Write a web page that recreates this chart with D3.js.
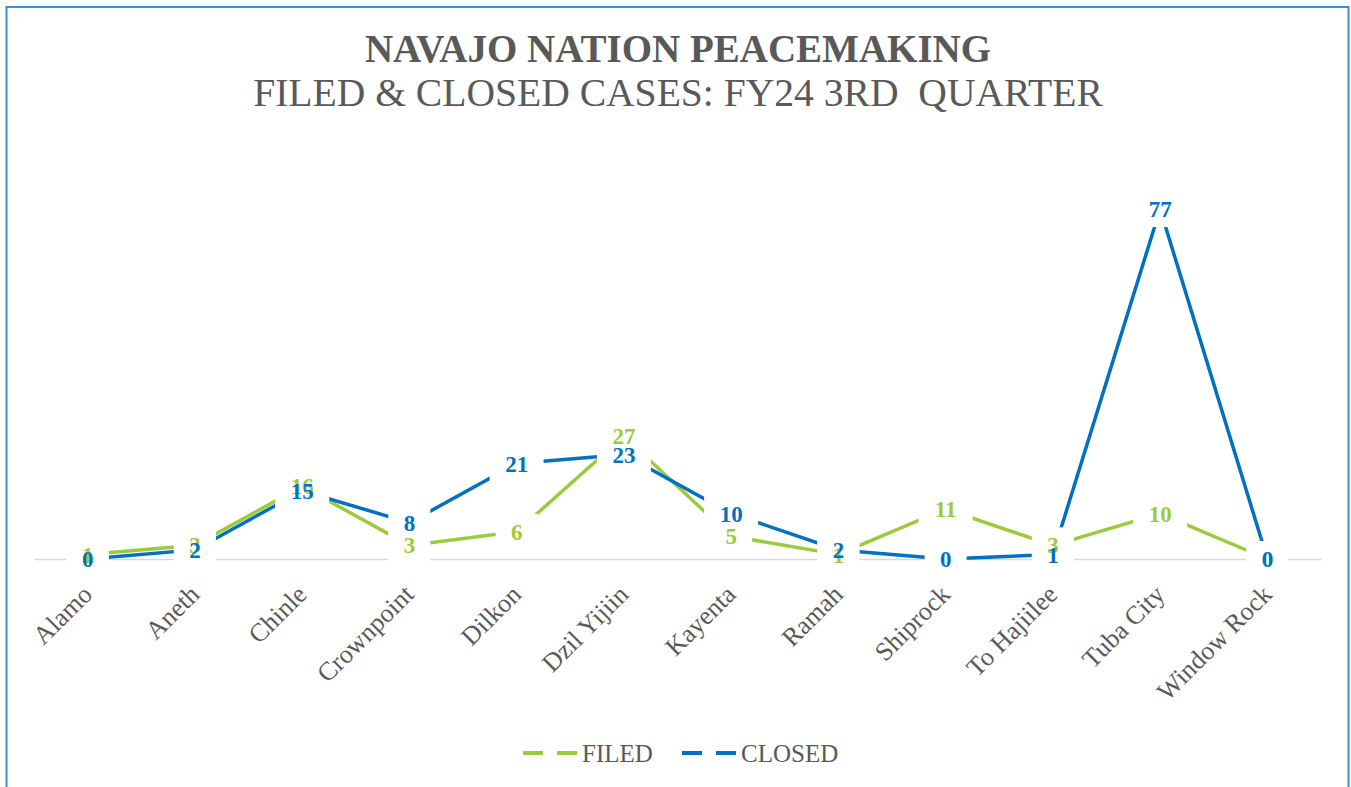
<!DOCTYPE html>
<html>
<head>
<meta charset="utf-8">
<script src="https://cdn.jsdelivr.net/npm/d3@7"></script>
<style>
  body { margin: 0; background: #fff; }
  svg text { font-family: "Liberation Serif", "DejaVu Serif", serif; }
</style>
</head>
<body>
<div id="chart"></div>
<script>
// chart data
var sites = ["Alamo", "Aneth", "Chinle", "Crownpoint", "Dilkon", "Dzil Yijiin",
  "Kayenta", "Ramah", "Shiprock", "To Hajiilee", "Tuba City", "Window Rock"];
var filedCases = [1, 3, 16, 3, 6, 27, 5, 1, 11, 3, 10, 0];
var closedCases = [0, 2, 15, 8, 21, 23, 10, 2, 0, 1, 77, 0];
var seriesNames = ["FILED", "CLOSED"];
var titleLines = ["NAVAJO NATION PEACEMAKING", "FILED & CLOSED CASES: FY24 3RD  QUARTER"];

function makeChart() {
  var width = 1351, height = 787;
  var green = "#9BCB3C", blue = "#0070C0", gray = "#595959";

  var svg = d3.select("#chart")
    .append("svg")
    .attr("width", width)
    .attr("height", height);

  // border (bottom edge is off the picture)
  svg.append("path")
    .attr("d", "M6.5,800 L6.5,7 L1348.5,7 L1348.5,800")
    .attr("fill", "none")
    .attr("stroke", "#3B8FDA")
    .attr("stroke-width", 2);

  // titles
  svg.append("text")
    .attr("x", 678).attr("y", 62)
    .attr("text-anchor", "middle")
    .attr("font-size", 39)
    .attr("font-weight", "bold")
    .attr("fill", gray)
    .text(titleLines[0]);
  svg.append("text")
    .attr("x", 678).attr("y", 106)
    .attr("text-anchor", "middle")
    .attr("font-size", 39.6)
    .attr("fill", gray)
    .style("white-space", "pre")
    .text(titleLines[1]);

  var x = d3.scaleBand()
    .domain(sites)
    .range([34, 1321]);
  var y = d3.scaleLinear()
    .domain([0, 90])
    .range([559, 150]);
  var cx = function (s) { return x(s) + x.bandwidth() / 2; };

  // category axis on the zero line
  var axis = svg.append("g")
    .attr("transform", "translate(0," + y(0) + ")")
    .call(d3.axisBottom(x).tickSize(0).tickSizeOuter(0));
  axis.select(".domain")
    .attr("stroke", "#d9d9d9")
    .attr("stroke-width", 1.5);
  axis.selectAll(".tick text")
    .attr("font-size", 26)
    .attr("fill", gray)
    .attr("text-anchor", "end")
    .attr("y", 0).attr("dy", 0)
    .attr("transform", "translate(6,37) rotate(-45)");

  var series = [
    { name: seriesNames[0], values: filedCases, color: green },
    { name: seriesNames[1], values: closedCases, color: blue }
  ];

  var line = d3.line()
    .x(function (d) { return cx(d.site); })
    .y(function (d) { return y(d.v); });

  series.forEach(function (s) {
    s.points = sites.map(function (site, i) { return { site: site, v: s.values[i] }; });
    svg.append("path")
      .datum(s.points)
      .attr("fill", "none")
      .attr("stroke", s.color)
      .attr("stroke-width", 3.5)
      .attr("d", line);
  });

  // white boxes behind the data labels
  series.forEach(function (s) {
    svg.append("g").selectAll("rect")
      .data(s.points)
      .join("rect")
      .attr("x", function (d) { return cx(d.site) - String(d.v).length * 6 - 15; })
      .attr("y", function (d) { return y(d.v) - 18; })
      .attr("width", function (d) { return String(d.v).length * 12 + 30; })
      .attr("height", 36)
      .attr("fill", "#fff");
  });

  // data labels
  series.forEach(function (s) {
    svg.append("g").selectAll("text")
      .data(s.points)
      .join("text")
      .attr("x", function (d) { return cx(d.site); })
      .attr("y", function (d) { return y(d.v); })
      .attr("dy", "0.35em")
      .attr("text-anchor", "middle")
      .attr("font-size", 23)
      .attr("font-weight", "bold")
      .attr("fill", s.color)
      .text(function (d) { return d.v; });
  });

  // legend
  var legend = svg.append("g");
  var legendX = [523, 682];
  series.forEach(function (s, i) {
    legend.append("line")
      .attr("x1", legendX[i]).attr("x2", legendX[i] + 54)
      .attr("y1", 753).attr("y2", 753)
      .attr("stroke", s.color)
      .attr("stroke-width", 4)
      .attr("stroke-dasharray", "20,14");
    legend.append("text")
      .attr("x", legendX[i] + 59).attr("y", 762)
      .attr("font-size", 25)
      .attr("fill", gray)
      .text(s.name);
  });
}

makeChart();
</script>
</body>
</html>
